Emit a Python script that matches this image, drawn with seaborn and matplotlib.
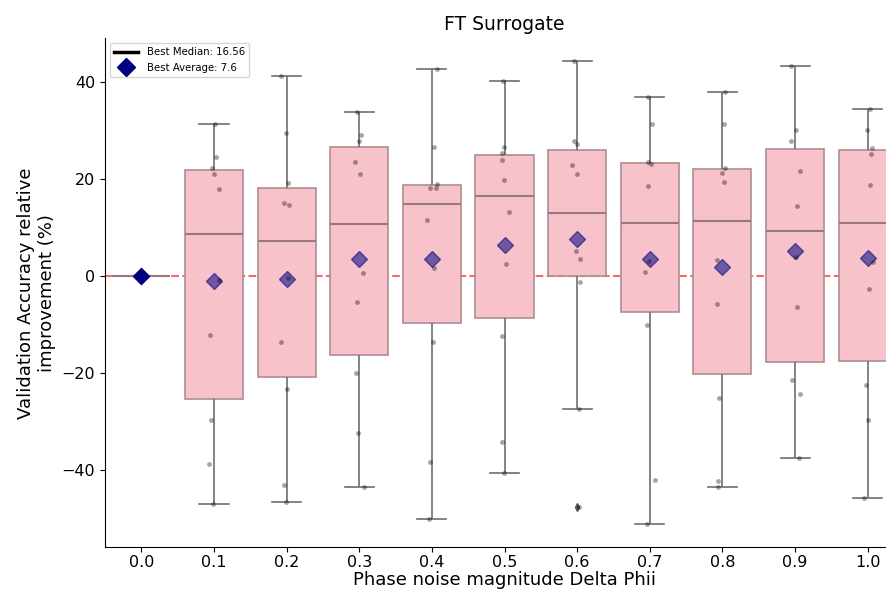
import numpy as np
import pandas as pd
import matplotlib
matplotlib.use("Agg")
import matplotlib.pyplot as plt
from matplotlib.lines import Line2D
import seaborn as sns

# Phase-noise magnitudes (categories on the x axis)
noise_levels = ["0.0", "0.1", "0.2", "0.3", "0.4", "0.5",
                "0.6", "0.7", "0.8", "0.9", "1.0"]

# Relative validation-accuracy improvement (%) per run, one list per magnitude
imp_00 = [0.0, 0.0, 0.0, 0.0, 0.0, 0.0, 0.0, 0.0, 0.0, 0.0]
imp_01 = [31.5, 24.5, 22.3, 21.0, 18.1, -0.7, -12.0, -29.7, -38.6, -47.0]
imp_02 = [41.3, 29.6, 19.3, 15.2, 14.8, -0.4, -13.5, -23.3, -43.0, -46.5]
imp_03 = [33.8, 29.1, 27.8, 23.5, 21.1, 0.6, -5.2, -20.0, -32.2, -43.4]
imp_04 = [42.7, 26.6, 19.0, 18.2, 18.2, 11.6, 1.7, -13.5, -38.2, -50.0]
imp_05 = [40.3, 26.6, 25.33, 24.0, 19.82, 13.3, 2.5, -12.3, -34.1, -40.5]
imp_06 = [44.3, 28.0, 27.2, 22.9, 21.1, 5.2, 3.5, -1.2, -27.4, -47.6]
imp_07 = [36.9, 31.5, 23.5, 23.2, 18.7, 3.1, 0.8, -10.0, -41.9, -51.1]
imp_08 = [38.1, 31.5, 22.3, 21.2, 19.4, 3.4, -5.7, -25.0, -42.3, -43.4]
imp_09 = [43.4, 30.2, 27.9, 21.7, 14.6, 4.0, -6.4, -21.4, -24.3, -37.5]
imp_10 = [34.4, 30.2, 26.4, 25.2, 18.8, 3.0, -2.7, -22.4, -29.6, -45.8]

runs = [imp_00, imp_01, imp_02, imp_03, imp_04, imp_05,
        imp_06, imp_07, imp_08, imp_09, imp_10]

frame = pd.DataFrame({
    "noise": [lvl for lvl, vals in zip(noise_levels, runs) for _ in vals],
    "improvement": [v for vals in runs for v in vals],
})

stats = frame.groupby("noise", sort=False)["improvement"]
best_median = stats.median().max()
best_mean = stats.mean().max()

fig = plt.figure(figsize=(8.87, 5.96), dpi=100)
ax = fig.add_axes([0.1184, 0.0817, 0.9008, 0.854])

ax.axhline(0, color="red", linestyle="--", linewidth=1.5, alpha=0.6, zorder=1.5)

sns.boxplot(
    data=frame, x="noise", y="improvement", order=noise_levels,
    color="#f7c2ca", saturation=1, linecolor="#ad8c93", linewidth=1.2,
    width=0.8, showmeans=True,
    meanprops=dict(marker="D", markerfacecolor="navy", markeredgecolor="navy",
                   markersize=8, alpha=0.55),
    medianprops=dict(color="#9a7880", linewidth=1.5),
    whiskerprops=dict(color="#6e6e6e", linewidth=1.2),
    capprops=dict(color="#6e6e6e", linewidth=1.2),
    flierprops=dict(marker="d", markerfacecolor="#555555",
                    markeredgecolor="#555555", markersize=4),
    ax=ax,
)

np.random.seed(3)
sns.stripplot(
    data=frame[frame["noise"] != "0.0"], x="noise", y="improvement",
    order=noise_levels, color="black", alpha=0.35, size=3.5, jitter=0.08,
    zorder=3, ax=ax,
)

# baseline average drawn solid
baseline = frame[frame["noise"] == "0.0"].groupby("noise", as_index=False)["improvement"].mean()
sns.stripplot(
    data=baseline, x="noise", y="improvement", order=noise_levels,
    marker="D", color="navy", size=9, jitter=False, zorder=4, ax=ax,
)

handles = [
    Line2D([], [], color="black", linewidth=2.5,
           label=f"Best Median: {best_median:.2f}"),
    Line2D([], [], color="navy", marker="D", linestyle="none", markersize=9,
           label=f"Best Average: {best_mean:.1f}"),
]
ax.legend(handles=handles, loc="upper left", fontsize=7.3, handlelength=2.4)

ax.set_title("FT Surrogate", fontsize=13.5)
ax.set_xlabel("Phase noise magnitude Delta Phii", fontsize=13, labelpad=1)
ax.set_ylabel("Validation Accuracy relative\nimprovement (%)", fontsize=13)
ax.tick_params(axis="x", labelsize=11.5, pad=2)
ax.tick_params(axis="y", labelsize=11.5)
sns.despine(ax=ax)

fig.savefig("out.png", dpi=100)
